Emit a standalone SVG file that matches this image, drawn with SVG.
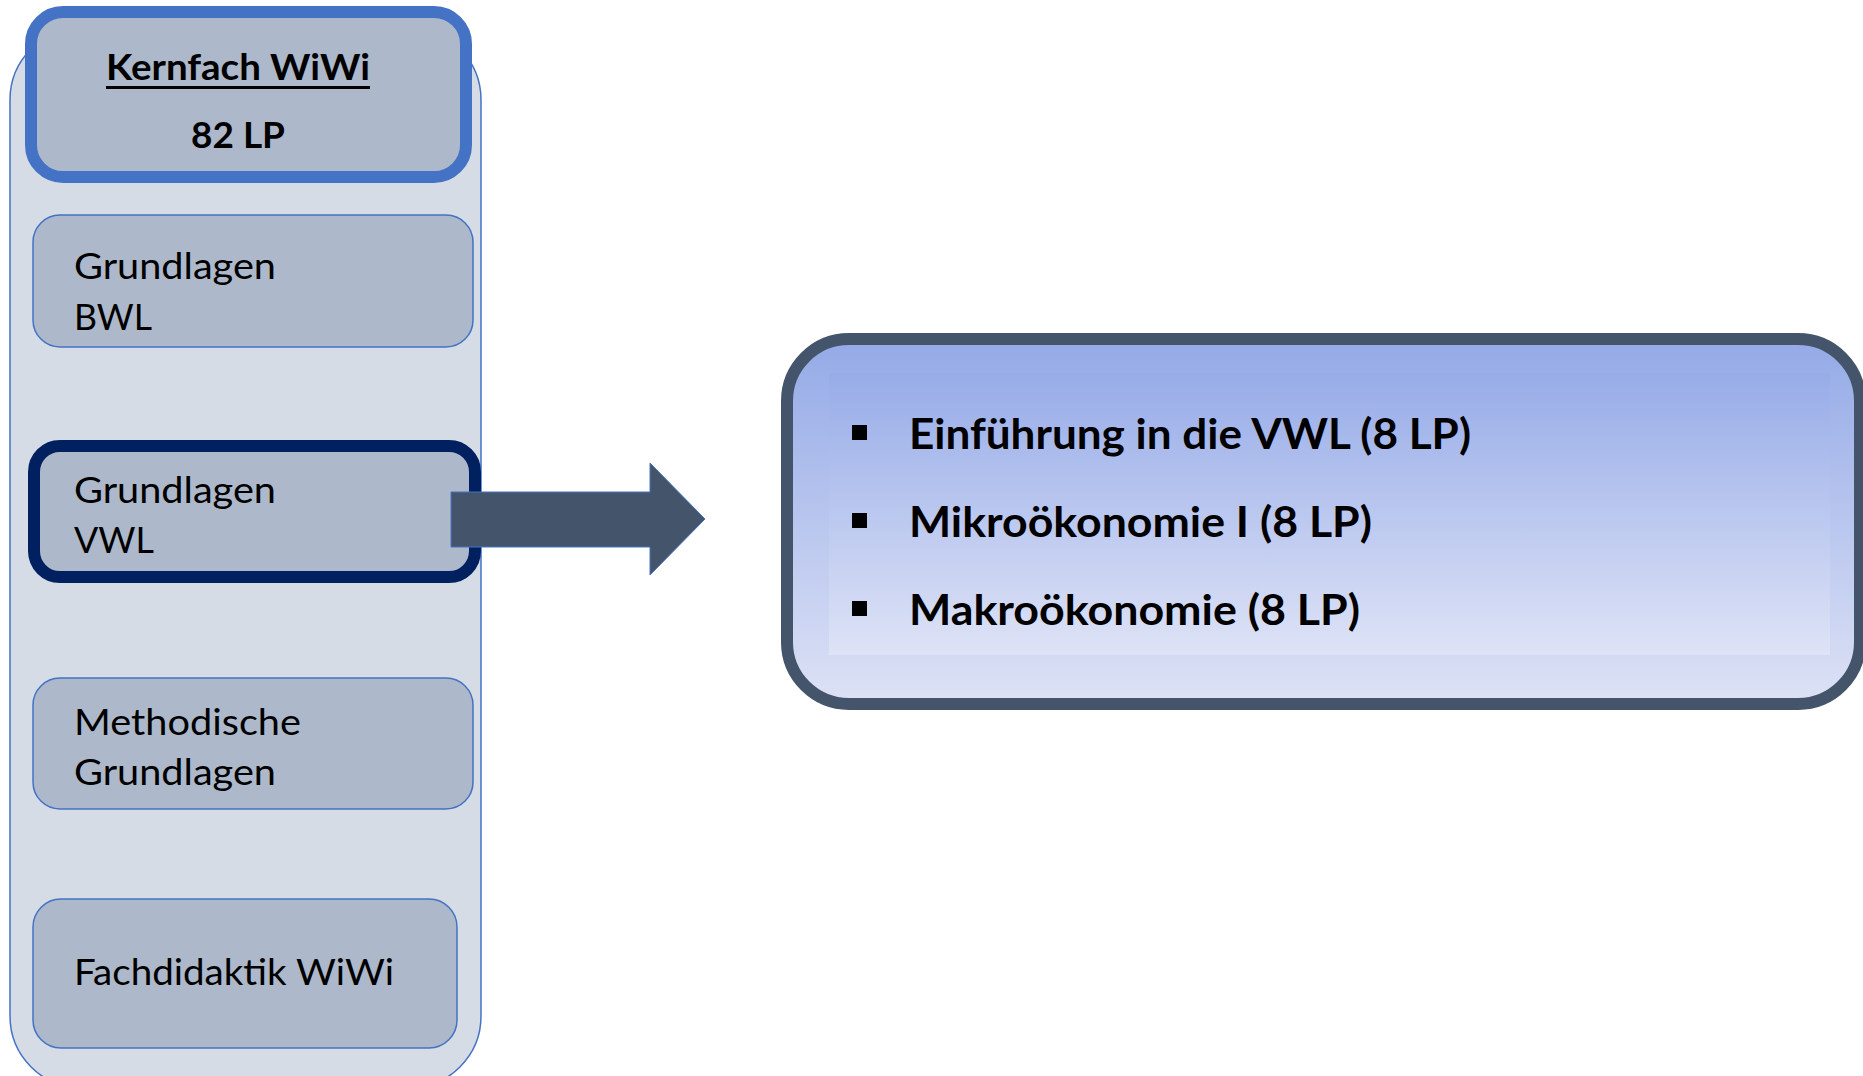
<svg xmlns="http://www.w3.org/2000/svg" width="1863" height="1076" viewBox="0 0 1863 1076">
<defs>
<linearGradient id="gBig" x1="0" y1="0" x2="0" y2="1">
<stop offset="0" stop-color="#94AAE7"/>
<stop offset="1" stop-color="#DDE2F5"/>
</linearGradient>
<linearGradient id="gInner" x1="0" y1="0" x2="0" y2="1">
<stop offset="0" stop-color="#97ACE8"/>
<stop offset="1" stop-color="#DEE3F6"/>
</linearGradient>
</defs>
<style>
.box{fill:#ADB9CA;stroke:#4472C4;stroke-width:1.5}
.lbl{font-family:Lato,"Liberation Sans",sans-serif;font-size:37px;fill:#000}
.bold{font-weight:bold}
.item{font-family:Lato,"Liberation Sans",sans-serif;font-size:42px;font-weight:bold;fill:#000}
</style>
<rect width="1863" height="1076" fill="#FFFFFF"/>
<g id="container">
<rect x="10" y="28" width="471" height="1060" rx="72" fill="#D6DCE5" stroke="#4472C4" stroke-width="1.5"/>
</g>
<g id="header">
<rect x="31" y="12" width="435" height="165" rx="32" fill="#ADB9CA" stroke="#4472C4" stroke-width="12"/>
<text class="lbl bold" x="238" y="80" text-anchor="middle" textLength="264" lengthAdjust="spacingAndGlyphs">Kernfach WiWi</text>
<rect x="106" y="86" width="264" height="3" fill="#000"/>
<text class="lbl bold" x="238" y="148" text-anchor="middle" textLength="94" lengthAdjust="spacingAndGlyphs">82 LP</text>
</g>
<g id="bwl">
<rect class="box" x="33" y="215" width="440" height="132" rx="27"/>
<text class="lbl" x="74" y="279" textLength="202" lengthAdjust="spacingAndGlyphs">Grundlagen</text>
<text class="lbl" x="74" y="330" textLength="78" lengthAdjust="spacingAndGlyphs">BWL</text>
</g>
<g id="vwl">
<rect x="34" y="446" width="441" height="131" rx="26" fill="#ADB9CA" stroke="#002060" stroke-width="12"/>
<text class="lbl" x="74" y="503" textLength="202" lengthAdjust="spacingAndGlyphs">Grundlagen</text>
<text class="lbl" x="74" y="553" textLength="80" lengthAdjust="spacingAndGlyphs">VWL</text>
</g>
<g id="methodisch">
<rect class="box" x="33" y="678" width="440" height="131" rx="27"/>
<text class="lbl" x="74" y="735" textLength="227" lengthAdjust="spacingAndGlyphs">Methodische</text>
<text class="lbl" x="74" y="785" textLength="202" lengthAdjust="spacingAndGlyphs">Grundlagen</text>
</g>
<g id="fachdidaktik">
<rect class="box" x="33" y="899" width="424" height="149" rx="28"/>
<text class="lbl" x="74" y="985" textLength="320" lengthAdjust="spacingAndGlyphs">Fachdidaktik WiWi</text>
</g>
<g id="connectors">
<polygon points="451,492 650,492 650,463 705,519 650,575 650,547 451,547" fill="#44546A" stroke="#4472C4" stroke-width="1"/>
</g>
<g id="details">
<rect x="787" y="339" width="1073" height="365" rx="62" fill="url(#gBig)" stroke="#44546A" stroke-width="12"/>
<rect x="829" y="373" width="1001" height="282" fill="url(#gInner)"/>
<rect x="852" y="425" width="15" height="15" fill="#000"/>
<text class="item" x="909" y="449" textLength="562" lengthAdjust="spacingAndGlyphs">Einführung in die VWL (8 LP)</text>
<rect x="852" y="513" width="15" height="15" fill="#000"/>
<text class="item" x="909" y="537" textLength="463" lengthAdjust="spacingAndGlyphs">Mikroökonomie I (8 LP)</text>
<rect x="852" y="601" width="15" height="15" fill="#000"/>
<text class="item" x="909" y="625" textLength="451" lengthAdjust="spacingAndGlyphs">Makroökonomie (8 LP)</text>
</g>
</svg>
